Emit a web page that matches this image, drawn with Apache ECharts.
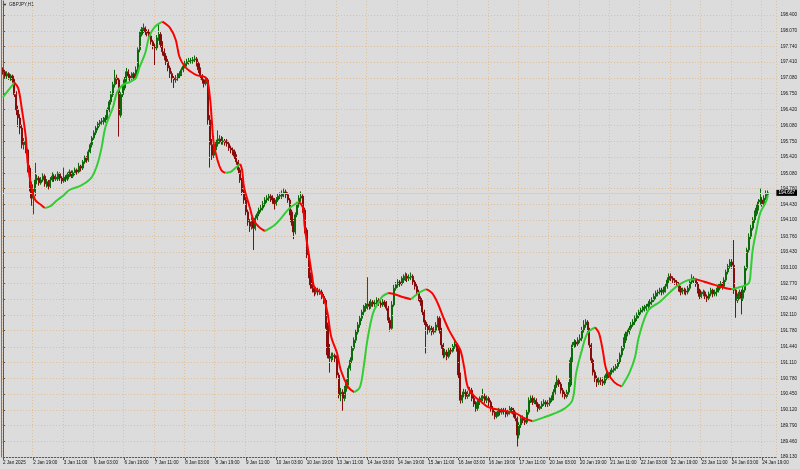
<!DOCTYPE html>
<html><head><meta charset="utf-8">
<script src="https://cdn.jsdelivr.net/npm/echarts/dist/echarts.min.js"></script>
<style>html,body{margin:0;padding:0;background:#dcdcdc}#c{width:800px;height:469px}</style>
</head><body><div id="c"></div>
<script>
const symbolTitle = 'GBPJPY,H1';
const timeTickLabels = ['2 Jan 2025','2 Jan 19:00','3 Jan 11:00','6 Jan 03:00','6 Jan 19:00','7 Jan 11:00','8 Jan 03:00','8 Jan 19:00','9 Jan 11:00','10 Jan 03:00','10 Jan 19:00','13 Jan 11:00','14 Jan 03:00','14 Jan 19:00','15 Jan 11:00','16 Jan 03:00','16 Jan 19:00','17 Jan 11:00','20 Jan 03:00','20 Jan 19:00','21 Jan 11:00','22 Jan 03:00','22 Jan 19:00','23 Jan 11:00','24 Jan 03:00','24 Jan 19:00'];
const priceTickLabels = ['198.400','198.070','197.740','197.410','197.080','196.750','196.420','196.080','195.750','195.420','195.080','194.760','194.430','194.100','193.760','193.430','193.100','192.770','192.440','192.110','191.780','191.440','191.110','190.780','190.450','190.120','189.790','189.460','189.130'];
const lastPrice = 194.667;
// candles: [open, close, low, high], one per H1 bar
const candles = [
[197.25,197.21,197.15,197.30],[197.21,197.12,197.08,197.25],[197.12,197.17,197.06,197.22],[197.17,197.08,197.04,197.20],[197.08,197.12,197.02,197.16],[197.12,197.04,196.98,197.15],[197.04,196.73,196.68,197.08],[196.73,196.41,196.30,196.80],[196.41,196.24,196.05,196.50],[196.24,196.03,195.90,196.32],
[196.03,195.68,195.60,196.10],[195.68,195.74,195.58,195.82],[195.74,195.57,195.50,195.80],[195.57,195.19,195.10,195.60],[195.19,194.84,194.70,195.25],[194.84,194.56,194.40,194.90],[194.56,194.69,194.22,194.75],[194.69,194.94,194.60,195.30],[194.94,194.98,194.85,195.05],[194.98,194.88,194.82,195.02],
[194.88,194.94,194.84,195.00],[194.94,195.02,194.90,195.08],[195.02,194.86,194.80,195.06],[194.86,194.90,194.78,194.96],[194.90,194.81,194.74,194.94],[194.81,194.94,194.76,195.00],[194.94,195.02,194.90,195.10],[195.02,194.96,194.90,195.06],[194.96,195.00,194.92,195.06],
[194.96,195.07,194.92,195.12],[195.07,194.98,194.92,195.10],[194.98,194.92,194.86,195.02],[194.92,195.00,194.88,195.20],[195.00,194.96,194.90,195.04],[194.96,195.05,194.92,195.10],[195.05,195.11,195.00,195.16],[195.11,195.02,194.98,195.14],[195.02,195.09,194.98,195.14],[195.09,195.15,195.04,195.20],
[195.15,195.11,195.05,195.18],[195.11,195.23,195.08,195.30],[195.23,195.19,195.12,195.26],[195.19,195.32,195.15,195.36],[195.32,195.40,195.28,195.45],[195.40,195.36,195.30,195.44],[195.36,195.53,195.32,195.58],[195.53,195.68,195.50,195.72],[195.68,195.82,195.62,195.86],[195.82,195.93,195.78,195.98],
[195.93,196.03,195.88,196.08],[196.03,196.12,195.98,196.16],[196.12,196.16,196.06,196.20],[196.16,196.18,196.10,196.24],
[196.16,196.20,196.10,196.26],[196.20,196.24,196.14,196.30],[196.24,196.41,196.20,196.46],[196.41,196.58,196.36,196.62],[196.58,196.73,196.52,196.80],[196.73,196.94,196.68,197.00],[196.94,197.08,196.88,197.25],[197.08,197.04,196.95,197.15],[197.04,196.30,195.85,197.08],[196.30,196.73,196.25,196.78],
[196.73,196.87,196.68,196.92],[196.87,197.04,196.82,197.10],[197.04,197.21,197.00,197.29],[197.21,197.12,197.05,197.26],[197.12,197.08,197.00,197.16],[197.08,197.17,197.04,197.20],[197.17,197.08,197.02,197.20],[197.08,197.25,197.05,197.32],[197.25,197.67,197.20,197.72],[197.67,197.99,197.62,198.05],
[197.99,198.09,197.95,198.15],[198.09,198.13,198.02,198.22],[198.13,198.05,197.98,198.16],[198.05,198.02,197.95,198.10],
[198.05,197.96,197.90,198.10],[197.96,197.84,197.78,198.00],[197.84,197.75,197.68,197.88],[197.75,197.71,197.35,197.80],[197.71,197.92,197.66,197.98],[197.92,197.99,197.86,198.20],[197.99,197.78,197.72,198.04],[197.78,197.63,197.55,197.85],[197.63,197.54,197.45,197.70],[197.54,197.42,197.35,197.60],
[197.42,197.29,197.22,197.48],[197.29,197.17,197.08,197.34],[197.17,197.08,196.98,197.22],[197.08,197.04,196.87,197.12],[197.04,197.08,196.98,197.14],[197.08,197.12,197.02,197.18],[197.12,197.17,197.06,197.22],[197.17,197.25,197.12,197.30],[197.25,197.33,197.20,197.38],[197.33,197.38,197.28,197.44],
[197.38,197.42,197.32,197.48],[197.42,197.44,197.36,197.50],[197.44,197.45,197.38,197.50],
[197.44,197.46,197.38,197.52],[197.46,197.48,197.40,197.55],[197.48,197.38,197.32,197.52],[197.38,197.25,197.18,197.42],[197.25,197.12,197.05,197.30],[197.12,197.04,196.96,197.16],[197.04,196.96,196.88,197.08],[196.96,197.04,196.92,197.10],[197.04,196.20,196.10,197.08],[196.20,195.68,195.20,196.30],
[195.68,195.46,195.36,195.80],[195.46,195.57,195.40,195.66],[195.57,195.70,195.50,195.76],[195.70,195.78,195.64,195.98],[195.78,195.80,195.70,195.88],[195.80,195.74,195.68,195.86],[195.74,195.76,195.68,195.84],[195.76,195.72,195.66,195.80],
[195.76,195.70,195.64,195.80],[195.70,195.61,195.55,195.74],[195.61,195.57,195.50,195.66],[195.57,195.53,195.46,195.62],[195.53,195.44,195.38,195.58],[195.44,195.32,195.26,195.48],[195.32,195.15,195.08,195.36],[195.15,194.94,194.88,195.20],[194.94,194.69,194.62,194.98],[194.69,194.52,194.44,194.74],
[194.52,194.27,194.20,194.58],[194.27,194.06,193.98,194.32],[194.06,193.97,193.85,194.12],[193.97,194.10,193.90,194.16],[194.10,193.93,193.47,194.14],[193.93,194.14,193.88,194.20],[194.14,194.23,194.08,194.28],[194.23,194.31,194.18,194.36],[194.31,194.35,194.26,194.42],[194.35,194.44,194.30,194.50],
[194.44,194.52,194.38,194.58],[194.52,194.56,194.46,194.62],[194.56,194.60,194.50,194.66],[194.60,194.56,194.48,194.64],[194.56,194.52,194.44,194.62],[194.52,194.44,194.32,194.56],[194.44,194.52,194.40,194.58],[194.52,194.60,194.48,194.66],[194.60,194.62,194.54,194.68],
[194.60,194.65,194.54,194.72],[194.65,194.69,194.58,194.76],[194.69,194.63,194.56,194.74],[194.63,194.52,194.46,194.68],[194.52,194.27,194.20,194.56],[194.27,194.06,193.98,194.32],[194.06,193.85,193.70,194.12],[193.85,194.21,193.80,194.26],[194.21,194.42,194.16,194.48],[194.42,194.56,194.36,194.62],
[194.56,194.60,194.48,194.70],[194.60,194.31,194.25,194.64],[194.31,193.89,193.82,194.36],[193.89,193.37,193.30,193.94],[193.37,192.95,192.88,193.42],[192.95,192.74,192.66,193.00],[192.74,192.67,192.58,192.80],[192.67,192.59,192.50,192.72],[192.59,192.63,192.54,192.70],[192.63,192.59,192.52,192.68],
[192.59,192.61,192.53,192.66],
[192.59,192.50,192.44,192.64],[192.50,192.42,192.34,192.55],[192.42,191.90,191.82,192.46],[191.90,191.27,191.20,191.95],[191.27,191.20,190.90,191.50],[191.20,191.24,191.12,191.32],[191.24,191.26,191.16,191.32],[191.26,191.20,191.12,191.30],[191.20,190.85,190.78,191.26],[190.85,190.43,190.36,190.90],
[190.43,190.49,190.30,190.58],[190.49,190.36,190.10,190.55],[190.36,190.57,190.30,190.62],[190.57,190.70,190.50,190.76],[190.70,190.99,190.64,191.05],[190.99,191.16,190.94,191.22],[191.16,191.41,191.10,191.46],[191.41,191.58,191.36,191.64],[191.58,191.75,191.52,191.80],[191.75,191.90,191.70,191.96],
[191.90,192.04,191.84,192.10],[192.04,192.17,191.98,192.22],[192.17,192.25,192.10,192.32],[192.25,192.29,192.18,192.36],[192.29,192.34,192.22,192.90],[192.34,192.29,192.22,192.40],[192.29,192.38,192.24,192.44],[192.38,192.34,192.28,192.42],[192.34,192.36,192.28,192.42],
[192.36,192.42,192.30,192.48],[192.42,192.36,192.30,192.46],[192.36,192.32,192.26,192.42],[192.32,192.38,192.28,192.44],[192.38,192.34,192.28,192.42],[192.34,192.25,192.20,192.40],[192.25,192.00,191.94,192.30],[192.00,191.83,191.76,192.06],[191.83,192.32,191.80,192.40],[192.32,192.67,192.28,192.74],
[192.67,192.74,192.62,192.80],[192.74,192.80,192.68,192.86],[192.80,192.76,192.70,192.84],[192.76,192.84,192.72,192.92],[192.84,192.88,192.78,192.96],[192.88,192.92,192.82,193.00],[192.92,192.88,192.80,192.98],[192.88,192.90,192.82,192.96],
[192.90,192.92,192.84,193.00],[192.92,192.80,192.74,192.96],[192.80,192.71,192.64,192.84],[192.71,192.59,192.52,192.76],[192.59,192.46,192.40,192.64],[192.46,192.38,192.30,192.50],[192.38,192.17,192.10,192.42],[192.17,191.96,191.90,192.22],[191.96,191.87,191.30,192.00],[191.87,191.79,191.70,191.92],
[191.79,191.83,191.74,191.90],[191.83,191.75,191.68,191.88],[191.75,191.79,191.70,191.86],[191.79,191.90,191.74,191.96],[191.90,192.04,191.85,192.10],[192.04,191.79,191.72,192.08],[191.79,191.48,191.40,191.84],[191.48,191.27,191.20,191.52],[191.27,191.33,191.22,191.40],[191.33,191.24,191.16,191.38],
[191.24,191.37,191.20,191.42],[191.37,191.35,191.28,191.42],
[191.35,191.45,191.32,191.50],[191.45,191.50,191.40,191.56],[191.50,191.41,191.34,191.54],[191.41,190.85,190.78,191.46],[190.85,190.32,190.25,190.90],[190.32,190.43,190.26,190.50],[190.43,190.49,190.38,190.56],[190.49,190.40,190.34,190.55],[190.40,190.45,190.35,190.52],[190.45,190.53,190.40,190.60],
[190.53,190.36,190.30,190.58],[190.36,190.24,190.18,190.42],[190.24,190.15,190.08,190.30],[190.15,190.28,190.10,190.34],[190.28,190.32,190.22,190.40],[190.32,190.36,190.26,190.42],[190.36,190.40,190.30,190.56],[190.40,190.32,190.26,190.46],[190.32,190.36,190.26,190.42],[190.36,190.28,190.20,190.40],
[190.28,190.15,190.08,190.32],[190.15,190.07,190.00,190.20],[190.07,189.98,189.92,190.12],[189.98,190.03,189.94,190.08],[190.03,190.11,189.98,190.16],[190.11,190.07,190.00,190.14],[190.07,190.11,190.02,190.16],[190.11,190.09,190.02,190.16],
[190.09,190.03,189.96,190.16],[190.03,190.07,189.98,190.12],[190.07,190.15,190.02,190.20],[190.15,190.11,190.04,190.18],[190.11,190.03,189.96,190.16],[190.03,189.94,189.88,190.08],[189.94,189.59,189.35,189.98],[189.59,189.80,189.52,189.86],[189.80,189.94,189.74,190.00],[189.94,189.90,189.84,190.00],
[189.90,189.86,189.80,189.96],[189.86,190.07,189.82,190.12],[190.07,190.32,190.02,190.38],[190.32,190.36,190.26,190.42],[190.36,190.28,190.22,190.42],[190.28,190.32,190.24,190.38],[190.32,190.24,190.18,190.36],[190.24,190.15,190.08,190.28],[190.15,190.19,190.10,190.24],[190.19,190.24,190.14,190.30],
[190.24,190.28,190.20,190.34],[190.28,190.24,190.18,190.32],[190.24,190.26,190.18,190.32],
[190.26,190.32,190.20,190.38],[190.32,190.36,190.28,190.42],[190.36,190.49,190.32,190.55],[190.49,190.64,190.44,190.70],[190.64,190.74,190.58,190.84],[190.74,190.66,190.60,190.78],[190.66,190.53,190.46,190.70],[190.53,190.45,190.38,190.58],[190.45,190.40,190.34,190.50],[190.40,190.49,190.36,190.54],
[190.49,190.64,190.44,190.70],[190.64,191.16,190.60,191.22],[191.16,191.48,191.10,191.54],[191.48,191.54,191.42,191.60],[191.54,191.50,191.44,191.58],[191.50,191.58,191.46,191.64],[191.58,191.62,191.52,191.70],[191.62,191.79,191.56,191.86],[191.79,191.90,191.74,192.00],[191.90,191.96,191.84,192.02],
[191.96,191.79,191.72,192.00],[191.79,191.48,191.42,191.84],[191.48,191.16,191.10,191.52],[191.16,190.91,190.84,191.20],[190.91,190.78,190.70,190.96],[190.78,190.70,190.60,190.84],[190.70,190.74,190.64,190.80],[190.74,190.72,190.64,190.80],
[190.72,190.68,190.62,190.80],[190.68,190.78,190.64,190.84],[190.78,190.87,190.74,190.92],[190.87,190.83,190.76,190.90],[190.83,190.91,190.78,190.96],[190.91,190.95,190.86,191.00],[190.95,190.99,190.90,191.04],[190.99,191.03,190.94,191.08],[191.03,191.12,190.98,191.18],[191.12,191.27,191.08,191.32],
[191.27,191.41,191.22,191.46],[191.41,191.58,191.36,191.64],[191.58,191.71,191.52,191.76],[191.71,191.75,191.66,191.80],[191.75,191.83,191.70,191.88],[191.83,191.90,191.78,191.96],[191.90,191.96,191.86,192.02],[191.96,192.04,191.90,192.10],[192.04,192.10,191.98,192.16],[192.10,192.17,192.04,192.22],
[192.17,192.21,192.12,192.26],[192.21,192.25,192.16,192.30],[192.25,192.27,192.18,192.32],
[192.27,192.29,192.20,192.34],[192.29,192.34,192.24,192.40],[192.34,192.38,192.28,192.44],[192.38,192.42,192.32,192.48],[192.42,192.50,192.38,192.56],[192.50,192.57,192.44,192.62],[192.57,192.59,192.50,192.64],[192.59,192.63,192.54,192.68],[192.63,192.59,192.52,192.68],[192.59,192.63,192.54,192.70],
[192.63,192.71,192.58,192.76],[192.71,192.84,192.66,192.90],[192.84,192.92,192.78,192.98],[192.92,192.88,192.82,192.98],[192.88,192.84,192.78,192.92],[192.84,192.80,192.74,192.88],[192.80,192.76,192.70,192.84],[192.76,192.67,192.60,192.80],[192.67,192.59,192.52,192.72],[192.59,192.63,192.54,192.68],
[192.63,192.61,192.54,192.68],
[192.61,192.59,192.52,192.66],[192.59,192.67,192.54,192.72],[192.67,192.80,192.62,192.86],[192.80,192.88,192.76,192.96],[192.88,192.84,192.78,192.92],[192.84,192.76,192.70,192.88],[192.76,192.63,192.56,192.80],[192.63,192.50,192.44,192.66],[192.50,192.55,192.46,192.60],[192.55,192.59,192.50,192.64],
[192.59,192.50,192.44,192.62],[192.50,192.46,192.38,192.54],[192.46,192.55,192.42,192.60],[192.55,192.63,192.50,192.68],[192.63,192.55,192.48,192.66],[192.55,192.59,192.50,192.64],
[192.59,192.63,192.50,192.68],[192.63,192.71,192.58,192.76],[192.71,192.76,192.66,192.82],[192.76,192.71,192.64,192.80],[192.71,192.84,192.68,192.90],[192.84,193.01,192.80,193.06],[193.01,193.13,192.96,193.18],[193.13,193.22,193.08,193.28],[193.22,193.15,193.08,193.28],[193.15,192.63,192.55,193.68],
[192.63,192.42,192.05,192.68],[192.42,192.50,192.36,192.56],[192.50,192.59,192.44,192.64],[192.59,192.46,192.12,192.64],[192.46,192.63,192.40,192.70],[192.63,193.09,192.58,193.14],[193.09,193.47,193.04,193.52],[193.47,193.76,193.42,193.82],[193.76,193.93,193.70,194.00],[193.93,194.10,193.88,194.16],
[194.10,194.23,194.04,194.30],[194.23,194.35,194.18,194.42],[194.35,194.48,194.30,194.54],[194.48,194.52,194.42,194.76],[194.52,194.44,194.38,194.58],[194.44,194.56,194.40,194.62],[194.56,194.64,194.52,194.72],[194.64,194.67,194.60,194.72]
];
// smoothed moving average, read at sample bars
const maIndex = [0,3,6,8,10,12,13,15,17,20,22,25,28,32,35,41,46,48,50,52,54,58,60,63,67,70,72,75,77,80,84,88,91,93,96,99,102,107,109,110,111,113,115,117,120,123,125,126,127,130,132,135,138,143,147,151,155,156,158,159,161,163,164,167,169,171,173,176,178,182,185,188,190,192,195,198,200,203,206,211,215,219,223,226,229,232,235,238,241,243,245,249,251,256,263,270,275,279,285,291,296,300,302,305,308,312,314,316,318,322,326,330,333,335,340,346,351,356,361,365,370,375,381,384,388,393,394,395,397,399,402,403];
const maValue = [196.68,196.83,196.98,196.87,196.41,195.84,195.30,194.79,194.52,194.42,194.35,194.39,194.50,194.62,194.73,194.82,194.96,195.09,195.30,195.63,196.05,196.47,196.77,196.93,197.00,197.08,197.31,197.61,197.94,198.15,198.26,198.13,197.88,197.52,197.31,197.21,197.14,197.08,196.68,196.20,195.72,195.36,195.15,195.09,195.11,195.21,195.28,195.15,194.79,194.37,194.10,193.95,193.87,193.99,194.16,194.35,194.46,194.48,194.37,193.95,193.41,192.90,192.69,192.59,192.46,192.15,191.64,191.31,190.95,190.59,190.49,190.59,191.01,191.58,192.15,192.38,192.50,192.57,192.55,192.48,192.44,192.57,192.65,192.57,192.36,192.06,191.79,191.58,191.37,191.01,190.59,190.38,190.32,190.17,190.11,190.05,189.94,189.88,189.96,190.05,190.15,190.32,190.89,191.37,191.73,191.85,191.73,191.37,190.95,190.70,190.61,190.89,191.22,191.64,192.21,192.38,192.57,192.74,192.84,192.86,192.80,192.74,192.67,192.65,192.69,192.78,193.05,193.47,193.89,194.25,194.48,194.62];

const padBars = 4;
const cats = candles.map((_, i) => i).concat(Array.from({length: padBars}, (_, k) => candles.length + k));
const priceTicks = priceTickLabels.map(Number);

const runs = [];
let cur = null;
for (let k = 0; k < maIndex.length - 1; k++) {
  const up = maValue[k + 1] >= maValue[k];
  if (!cur || cur.up !== up) { cur = {up, pts: [[maIndex[k], maValue[k]]]}; runs.push(cur); }
  cur.pts.push([maIndex[k + 1], maValue[k + 1]]);
}
const maSeries = runs.map(r => ({
  type: 'line', xAxisIndex: 1, yAxisIndex: 0, data: r.pts, smooth: 0.35,
  symbol: 'none', silent: true, z: 5,
  lineStyle: {width: 2, color: r.up ? '#32cd32' : '#ff0000'}
}));

const FONT = 'Liberation Sans';
const gridLineColor = '#e2bf98';
const chart = echarts.init(document.getElementById('c'), null, {renderer: 'canvas'});
chart.setOption({
  animation: false,
  backgroundColor: '#dcdcdc',
  grid: {left: -1.5, right: 22, top: 1, bottom: 12},
  xAxis: [{
    type: 'category', data: cats, boundaryGap: true,
    axisLine: {show: true, lineStyle: {color: '#5a5a5a', width: 1}},
    axisTick: {show: true, interval: 15, alignWithLabel: true, length: 3, lineStyle: {color: '#5a5a5a'}},
    axisLabel: {show: true, interval: 15, align: 'left', margin: 3, fontSize: 4.6, fontFamily: FONT, color: '#111',
      formatter: (v, i) => (i % 16 === 0 && timeTickLabels[i / 16]) ? timeTickLabels[i / 16] : ''},
    splitLine: {show: true, interval: 15, lineStyle: {type: [1, 2], color: gridLineColor, width: 1}}
  }, {
    type: 'value', min: -0.5, max: cats.length - 0.5, show: false
  }],
  yAxis: {
    type: 'value', position: 'right', min: 189.13, max: 198.694,
    axisLine: {show: true, lineStyle: {color: '#5a5a5a', width: 1}},
    axisTick: {show: true, customValues: priceTicks, length: 3, lineStyle: {color: '#5a5a5a'}},
    axisLabel: {show: true, customValues: priceTicks, margin: 4, fontSize: 4.6, fontFamily: FONT, color: '#111',
      formatter: v => v.toFixed(3)},
    splitLine: {show: false}
  },
  series: [{
    type: 'line', xAxisIndex: 1, yAxisIndex: 0, data: [], silent: true, z: 1,
    markLine: {
      silent: true, symbol: 'none', animation: false,
      label: {show: false},
      lineStyle: {type: [1, 2], color: gridLineColor, width: 1},
      data: priceTicks.map(v => ({yAxis: v}))
    }
  }, {
    type: 'line', xAxisIndex: 1, yAxisIndex: 0, data: [], silent: true, z: 2,
    markLine: {
      silent: true, symbol: 'none', animation: false,
      lineStyle: {type: 'solid', color: '#e8c9a8', width: 1},
      label: {show: true, position: 'end', distance: 0, formatter: lastPrice.toFixed(3),
        backgroundColor: '#000', color: '#fff', fontSize: 4.6, fontFamily: FONT, padding: [1, 2, 0, 2]},
      data: [{yAxis: lastPrice}]
    }
  }, {
    type: 'candlestick', xAxisIndex: 0, yAxisIndex: 0, data: candles, z: 3,
    barWidth: 1.6,
    itemStyle: {color: '#0b6b0b', color0: '#870d0d', borderColor: '#0b6b0b', borderColor0: '#870d0d', borderWidth: 1}
  }].concat(maSeries),
  graphic: [
    {type: 'line', shape: {x1: 1.5, y1: 0, x2: 1.5, y2: 457}, style: {stroke: '#7a7a7a', lineWidth: 1}, silent: true},
    {type: 'text', left: 3, top: 3, style: {text: '▼', fontSize: 4, fill: '#222'}, silent: true},
    {type: 'text', left: 9, top: 2.5, style: {text: symbolTitle, fontSize: 4.6, fontFamily: FONT, fill: '#222'}, silent: true}
  ]
});
</script>
</body></html>
